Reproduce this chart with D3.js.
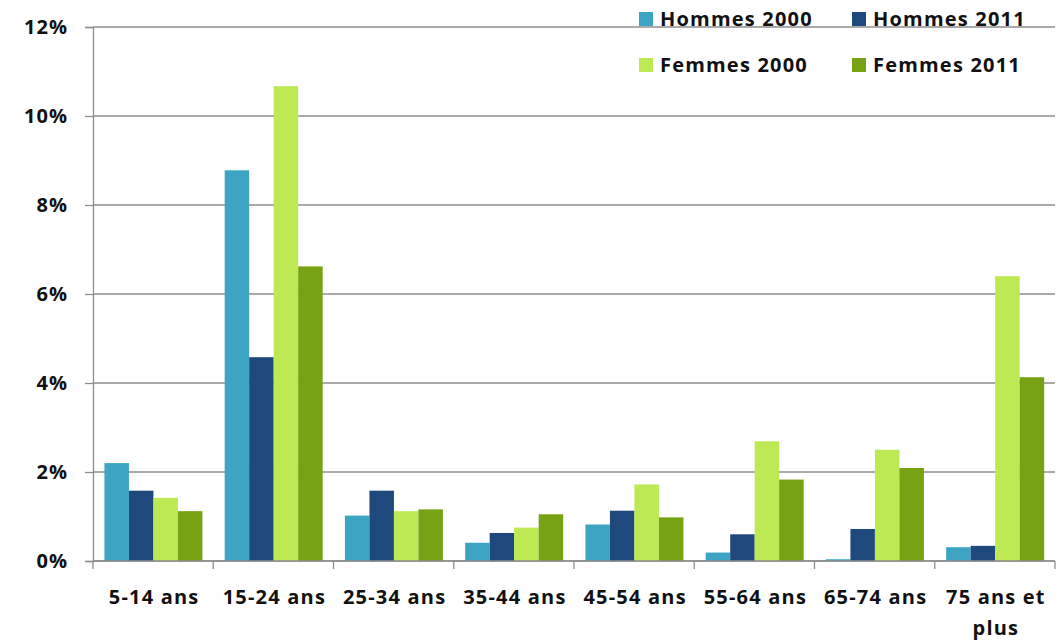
<!DOCTYPE html>
<html>
<head>
<meta charset="utf-8">
<script src="https://cdn.jsdelivr.net/npm/d3@7"></script>
<style>
  html, body { margin: 0; padding: 0; background: #fff; }
  svg { display: block; }
  text { font-family: "Open Sans", "DejaVu Sans", sans-serif; font-weight: bold; fill: #111; }
</style>
</head>
<body>
<svg id="chart" width="1057" height="640"></svg>
<script>
// ---- Data ----
const categories = ["5-14 ans", "15-24 ans", "25-34 ans", "35-44 ans", "45-54 ans", "55-64 ans", "65-74 ans", "75 ans et plus"];
const seriesNames = ["Hommes 2000", "Hommes 2011", "Femmes 2000", "Femmes 2011"];
const hommes2000 = [2.20, 8.78, 1.02, 0.41, 0.82, 0.19, 0.04, 0.31];
const hommes2011 = [1.58, 4.58, 1.58, 0.63, 1.13, 0.60, 0.72, 0.34];
const femmes2000 = [1.42, 10.67, 1.12, 0.75, 1.72, 2.69, 2.50, 6.40];
const femmes2011 = [1.12, 6.62, 1.16, 1.05, 0.98, 1.83, 2.09, 4.13];
const yTicks = [0, 2, 4, 6, 8, 10, 12];
const colors = ["#3DA5C3", "#1F497D", "#BCE954", "#76A214"];

const seriesValues = [hommes2000, hommes2011, femmes2000, femmes2011];

// ---- Layout ----
const svg = d3.select("#chart");
const mLeft = 93, mRight = 1055, mTop = 27, mBottom = 561;

const x0 = d3.scaleBand().domain(categories).range([mLeft, mRight]).padding(0);
const bw = x0.bandwidth();
const x1 = d3.scaleBand().domain(seriesNames).range([bw * 0.095, bw * 0.91]).padding(0);
const y = d3.scaleLinear().domain([0, 12]).range([mBottom, mTop]);

// gridlines
svg.append("g").selectAll("line").data(yTicks).join("line")
  .attr("x1", mLeft).attr("x2", mRight)
  .attr("y1", d => y(d)).attr("y2", d => y(d))
  .attr("stroke", "#8e8e8e").attr("stroke-width", 1.3);

// bars
const groups = svg.append("g").selectAll("g").data(categories).join("g")
  .attr("transform", c => `translate(${x0(c)},0)`);
groups.selectAll("rect")
  .data((c, i) => seriesNames.map((s, j) => ({ s, v: seriesValues[j][i], j })))
  .join("rect")
  .attr("x", d => x1(d.s))
  .attr("width", x1.bandwidth())
  .attr("y", d => y(d.v))
  .attr("height", d => y(0) - y(d.v))
  .attr("fill", d => colors[d.j]);

// y axis
const yAxis = d3.axisLeft(y).tickValues(yTicks).tickFormat(d => d + "%").tickSize(8).tickPadding(17);
const gy = svg.append("g").attr("transform", `translate(${mLeft},0)`).call(yAxis);
gy.select(".domain").attr("stroke", "#8e8e8e").attr("stroke-width", 1.3);
gy.selectAll(".tick line").attr("stroke", "#8e8e8e").attr("stroke-width", 1.3);
gy.selectAll(".tick text").style("font-size", "20px").attr("fill", "#111")
  .style("letter-spacing", "1px")
  .style("font-family", "'Open Sans', sans-serif").style("font-weight", "bold");

// x axis
const ticksX = categories.map(c => x0(c)).concat([mRight]);
svg.append("line").attr("x1", mLeft).attr("x2", mRight).attr("y1", mBottom).attr("y2", mBottom)
  .attr("stroke", "#8e8e8e").attr("stroke-width", 1.3);
svg.append("g").selectAll("line").data(ticksX).join("line")
  .attr("x1", d => d).attr("x2", d => d).attr("y1", mBottom).attr("y2", mBottom + 8)
  .attr("stroke", "#8e8e8e").attr("stroke-width", 1.3);

const xl = svg.append("g").selectAll("text").data(categories).join("text")
  .attr("text-anchor", "middle")
  .style("font-size", "20px")
  .style("letter-spacing", "1.2px")
  .attr("x", c => x0(c) + bw / 2 + 1)
  .attr("y", 604);
xl.each(function (c) {
  const t = d3.select(this);
  if (c === "75 ans et plus") {
    t.append("tspan").attr("x", x0(c) + bw / 2 + 1).attr("dy", 0).text("75 ans et");
    t.append("tspan").attr("x", x0(c) + bw / 2 + 1).attr("dy", 31).text("plus");
  } else {
    t.text(c);
  }
});

// legend
const legendPos = [[639, 12], [852, 12], [639, 58], [852, 58]];
const lg = svg.append("g").selectAll("g").data(seriesNames).join("g")
  .attr("transform", (d, i) => `translate(${legendPos[i][0]},${legendPos[i][1]})`);
lg.append("rect").attr("width", 14).attr("height", 14).attr("fill", (d, i) => colors[i]);
lg.append("text").attr("x", 21).attr("y", 14).style("font-size", "20px")
  .style("letter-spacing", "1.2px").text(d => d);
</script>
</body>
</html>
